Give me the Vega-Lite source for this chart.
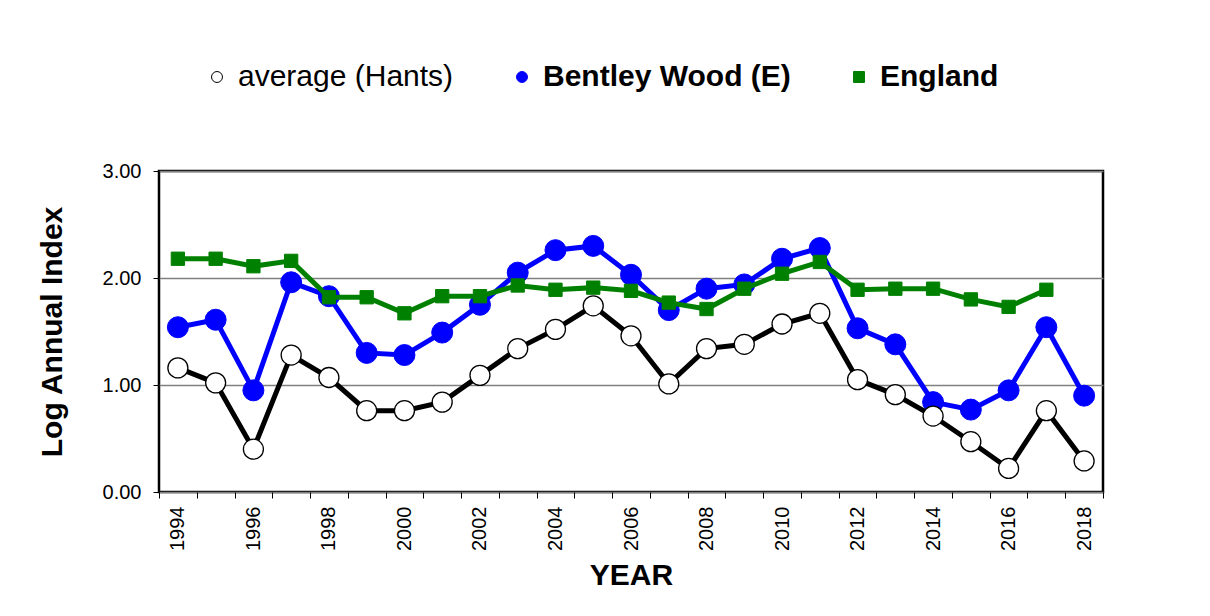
{
  "$schema": "https://vega.github.io/schema/vega-lite/v6.json",
  "width": 944,
  "height": 321,
  "autosize": "none",
  "padding": {"left": 159, "top": 171, "right": 107, "bottom": 124},
  "background": "white",
  "config": {
    "view": {"stroke": "black", "strokeWidth": 2.5},
    "font": "Liberation Sans"
  },
  "data": {
    "values": [
      {"s": "Bentley Wood (E)", "year": 1994, "v": 1.54},
      {"s": "Bentley Wood (E)", "year": 1995, "v": 1.61},
      {"s": "Bentley Wood (E)", "year": 1996, "v": 0.95},
      {"s": "Bentley Wood (E)", "year": 1997, "v": 1.96},
      {"s": "Bentley Wood (E)", "year": 1998, "v": 1.83},
      {"s": "Bentley Wood (E)", "year": 1999, "v": 1.30},
      {"s": "Bentley Wood (E)", "year": 2000, "v": 1.28},
      {"s": "Bentley Wood (E)", "year": 2001, "v": 1.49},
      {"s": "Bentley Wood (E)", "year": 2002, "v": 1.75},
      {"s": "Bentley Wood (E)", "year": 2003, "v": 2.05},
      {"s": "Bentley Wood (E)", "year": 2004, "v": 2.26},
      {"s": "Bentley Wood (E)", "year": 2005, "v": 2.30},
      {"s": "Bentley Wood (E)", "year": 2006, "v": 2.03},
      {"s": "Bentley Wood (E)", "year": 2007, "v": 1.70},
      {"s": "Bentley Wood (E)", "year": 2008, "v": 1.90},
      {"s": "Bentley Wood (E)", "year": 2009, "v": 1.94},
      {"s": "Bentley Wood (E)", "year": 2010, "v": 2.18},
      {"s": "Bentley Wood (E)", "year": 2011, "v": 2.28},
      {"s": "Bentley Wood (E)", "year": 2012, "v": 1.53},
      {"s": "Bentley Wood (E)", "year": 2013, "v": 1.38},
      {"s": "Bentley Wood (E)", "year": 2014, "v": 0.84},
      {"s": "Bentley Wood (E)", "year": 2015, "v": 0.77},
      {"s": "Bentley Wood (E)", "year": 2016, "v": 0.95},
      {"s": "Bentley Wood (E)", "year": 2017, "v": 1.54},
      {"s": "Bentley Wood (E)", "year": 2018, "v": 0.90},
      {"s": "England", "year": 1994, "v": 2.18},
      {"s": "England", "year": 1995, "v": 2.18},
      {"s": "England", "year": 1996, "v": 2.11},
      {"s": "England", "year": 1997, "v": 2.16},
      {"s": "England", "year": 1998, "v": 1.82},
      {"s": "England", "year": 1999, "v": 1.82},
      {"s": "England", "year": 2000, "v": 1.67},
      {"s": "England", "year": 2001, "v": 1.83},
      {"s": "England", "year": 2002, "v": 1.83},
      {"s": "England", "year": 2003, "v": 1.93},
      {"s": "England", "year": 2004, "v": 1.89},
      {"s": "England", "year": 2005, "v": 1.91},
      {"s": "England", "year": 2006, "v": 1.88},
      {"s": "England", "year": 2007, "v": 1.77},
      {"s": "England", "year": 2008, "v": 1.71},
      {"s": "England", "year": 2009, "v": 1.90},
      {"s": "England", "year": 2010, "v": 2.04},
      {"s": "England", "year": 2011, "v": 2.15},
      {"s": "England", "year": 2012, "v": 1.89},
      {"s": "England", "year": 2013, "v": 1.90},
      {"s": "England", "year": 2014, "v": 1.90},
      {"s": "England", "year": 2015, "v": 1.80},
      {"s": "England", "year": 2016, "v": 1.73},
      {"s": "England", "year": 2017, "v": 1.89},
      {"s": "average (Hants)", "year": 1994, "v": 1.16},
      {"s": "average (Hants)", "year": 1995, "v": 1.02},
      {"s": "average (Hants)", "year": 1996, "v": 0.40},
      {"s": "average (Hants)", "year": 1997, "v": 1.28},
      {"s": "average (Hants)", "year": 1998, "v": 1.07},
      {"s": "average (Hants)", "year": 1999, "v": 0.76},
      {"s": "average (Hants)", "year": 2000, "v": 0.76},
      {"s": "average (Hants)", "year": 2001, "v": 0.84},
      {"s": "average (Hants)", "year": 2002, "v": 1.09},
      {"s": "average (Hants)", "year": 2003, "v": 1.34},
      {"s": "average (Hants)", "year": 2004, "v": 1.52},
      {"s": "average (Hants)", "year": 2005, "v": 1.74},
      {"s": "average (Hants)", "year": 2006, "v": 1.46},
      {"s": "average (Hants)", "year": 2007, "v": 1.01},
      {"s": "average (Hants)", "year": 2008, "v": 1.34},
      {"s": "average (Hants)", "year": 2009, "v": 1.38},
      {"s": "average (Hants)", "year": 2010, "v": 1.57},
      {"s": "average (Hants)", "year": 2011, "v": 1.67},
      {"s": "average (Hants)", "year": 2012, "v": 1.05},
      {"s": "average (Hants)", "year": 2013, "v": 0.91},
      {"s": "average (Hants)", "year": 2014, "v": 0.71},
      {"s": "average (Hants)", "year": 2015, "v": 0.47},
      {"s": "average (Hants)", "year": 2016, "v": 0.22},
      {"s": "average (Hants)", "year": 2017, "v": 0.76},
      {"s": "average (Hants)", "year": 2018, "v": 0.29}
    ]
  },
  "encoding": {
    "x": {
      "field": "year", "type": "quantitative",
      "scale": {"domain": [1993.5, 2018.5], "nice": false, "zero": false},
      "axis": {
        "title": "YEAR", "titleFontSize": 30, "titleFontWeight": "bold", "titleColor": "black", "titlePadding": 10,
        "values": [1993.5,1994.5,1995.5,1996.5,1997.5,1998.5,1999.5,2000.5,2001.5,2002.5,2003.5,2004.5,2005.5,2006.5,2007.5,2008.5,2009.5,2010.5,2011.5,2012.5,2013.5,2014.5,2015.5,2016.5,2017.5,2018.5],
        "labelExpr": "(datum.value + 0.5) % 2 == 0 ? format(datum.value + 0.5, 'd') : ''",
        "labelAngle": -90, "labelOffset": 18.9, "labelFontSize": 20, "labelColor": "black", "labelPadding": 8,
        "labelOverlap": false, "labelFlush": false, "labelBound": false,
        "tickColor": "black", "tickSize": 6, "tickWidth": 1, "domain": false, "grid": false
      }
    },
    "y": {
      "field": "v", "type": "quantitative",
      "scale": {"domain": [0, 3], "nice": false, "zero": true},
      "axis": {
        "title": "Log Annual Index", "titleFontSize": 30, "titleFontWeight": "bold", "titleColor": "black", "titlePadding": 35,
        "values": [0, 1, 2, 3], "format": ".2f", "labelFontSize": 20, "labelColor": "black", "labelPadding": 12,
        "tickColor": "black", "tickSize": 6, "tickWidth": 1, "domain": false,
        "grid": true, "gridColor": "#808080", "gridWidth": 1.3
      }
    }
  },
  "layer": [
    {
      "transform": [{"filter": "datum.s == 'Bentley Wood (E)'"}],
      "mark": {"type": "line", "strokeWidth": 5, "color": "#0000FF"},
      "encoding": {}
    },
    {
      "transform": [{"filter": "datum.s == 'Bentley Wood (E)'"}],
      "mark": {"type": "point", "filled": true, "size": 441, "strokeWidth": 1, "opacity": 1},
      "encoding": {
        "fill": {"field": "s", "type": "nominal", "scale": {"domain": ["average (Hants)", "Bentley Wood (E)", "England"], "range": ["#FFFFFF", "#0000FF", "#008000"]},
          "legend": {"title": null, "orient": "none", "legendX": 43, "legendY": -109, "direction": "horizontal", "labelFontSize": 30, "labelColor": "black", "labelFontWeight": {"expr": "datum.value == 'average (Hants)' ? 'normal' : 'bold'"}, "symbolSize": 120, "symbolStrokeWidth": 1, "labelOffset": 6, "columnPadding": 53, "padding": 0, "labelLimit": 400}},
        "shape": {"field": "s", "type": "nominal", "scale": {"domain": ["average (Hants)", "Bentley Wood (E)", "England"], "range": ["circle", "circle", "square"]},
          "legend": {"title": null, "orient": "none", "legendX": 43, "legendY": -109, "direction": "horizontal", "labelFontSize": 30, "labelColor": "black", "labelFontWeight": {"expr": "datum.value == 'average (Hants)' ? 'normal' : 'bold'"}, "symbolSize": 120, "symbolStrokeWidth": 1, "labelOffset": 6, "columnPadding": 53, "padding": 0, "labelLimit": 400}},
        "stroke": {"field": "s", "type": "nominal", "scale": {"domain": ["average (Hants)", "Bentley Wood (E)", "England"], "range": ["#000000", "#0000FF", "#008000"]},
          "legend": {"title": null, "orient": "none", "legendX": 43, "legendY": -109, "direction": "horizontal", "labelFontSize": 30, "labelColor": "black", "labelFontWeight": {"expr": "datum.value == 'average (Hants)' ? 'normal' : 'bold'"}, "symbolSize": 120, "symbolStrokeWidth": 1, "labelOffset": 6, "columnPadding": 53, "padding": 0, "labelLimit": 400}}
      }
    },
    {
      "transform": [{"filter": "datum.s == 'England'"}],
      "mark": {"type": "line", "strokeWidth": 5, "color": "#008000"},
      "encoding": {}
    },
    {
      "transform": [{"filter": "datum.s == 'England'"}],
      "mark": {"type": "point", "filled": true, "size": 177, "strokeWidth": 1, "opacity": 1},
      "encoding": {
        "fill": {"field": "s", "type": "nominal", "scale": {"domain": ["average (Hants)", "Bentley Wood (E)", "England"], "range": ["#FFFFFF", "#0000FF", "#008000"]},
          "legend": {"title": null, "orient": "none", "legendX": 43, "legendY": -109, "direction": "horizontal", "labelFontSize": 30, "labelColor": "black", "labelFontWeight": {"expr": "datum.value == 'average (Hants)' ? 'normal' : 'bold'"}, "symbolSize": 120, "symbolStrokeWidth": 1, "labelOffset": 6, "columnPadding": 53, "padding": 0, "labelLimit": 400}},
        "shape": {"field": "s", "type": "nominal", "scale": {"domain": ["average (Hants)", "Bentley Wood (E)", "England"], "range": ["circle", "circle", "square"]},
          "legend": {"title": null, "orient": "none", "legendX": 43, "legendY": -109, "direction": "horizontal", "labelFontSize": 30, "labelColor": "black", "labelFontWeight": {"expr": "datum.value == 'average (Hants)' ? 'normal' : 'bold'"}, "symbolSize": 120, "symbolStrokeWidth": 1, "labelOffset": 6, "columnPadding": 53, "padding": 0, "labelLimit": 400}},
        "stroke": {"field": "s", "type": "nominal", "scale": {"domain": ["average (Hants)", "Bentley Wood (E)", "England"], "range": ["#000000", "#0000FF", "#008000"]},
          "legend": {"title": null, "orient": "none", "legendX": 43, "legendY": -109, "direction": "horizontal", "labelFontSize": 30, "labelColor": "black", "labelFontWeight": {"expr": "datum.value == 'average (Hants)' ? 'normal' : 'bold'"}, "symbolSize": 120, "symbolStrokeWidth": 1, "labelOffset": 6, "columnPadding": 53, "padding": 0, "labelLimit": 400}}
      }
    },
    {
      "transform": [{"filter": "datum.s == 'average (Hants)'"}],
      "mark": {"type": "line", "strokeWidth": 5, "color": "#000000"},
      "encoding": {}
    },
    {
      "transform": [{"filter": "datum.s == 'average (Hants)'"}],
      "mark": {"type": "point", "filled": true, "size": 400, "strokeWidth": 1.3, "opacity": 1},
      "encoding": {
        "fill": {"field": "s", "type": "nominal", "scale": {"domain": ["average (Hants)", "Bentley Wood (E)", "England"], "range": ["#FFFFFF", "#0000FF", "#008000"]},
          "legend": {"title": null, "orient": "none", "legendX": 43, "legendY": -109, "direction": "horizontal", "labelFontSize": 30, "labelColor": "black", "labelFontWeight": {"expr": "datum.value == 'average (Hants)' ? 'normal' : 'bold'"}, "symbolSize": 120, "symbolStrokeWidth": 1, "labelOffset": 6, "columnPadding": 53, "padding": 0, "labelLimit": 400}},
        "shape": {"field": "s", "type": "nominal", "scale": {"domain": ["average (Hants)", "Bentley Wood (E)", "England"], "range": ["circle", "circle", "square"]},
          "legend": {"title": null, "orient": "none", "legendX": 43, "legendY": -109, "direction": "horizontal", "labelFontSize": 30, "labelColor": "black", "labelFontWeight": {"expr": "datum.value == 'average (Hants)' ? 'normal' : 'bold'"}, "symbolSize": 120, "symbolStrokeWidth": 1, "labelOffset": 6, "columnPadding": 53, "padding": 0, "labelLimit": 400}},
        "stroke": {"field": "s", "type": "nominal", "scale": {"domain": ["average (Hants)", "Bentley Wood (E)", "England"], "range": ["#000000", "#0000FF", "#008000"]},
          "legend": {"title": null, "orient": "none", "legendX": 43, "legendY": -109, "direction": "horizontal", "labelFontSize": 30, "labelColor": "black", "labelFontWeight": {"expr": "datum.value == 'average (Hants)' ? 'normal' : 'bold'"}, "symbolSize": 120, "symbolStrokeWidth": 1, "labelOffset": 6, "columnPadding": 53, "padding": 0, "labelLimit": 400}}
      }
    }
  ]
}
